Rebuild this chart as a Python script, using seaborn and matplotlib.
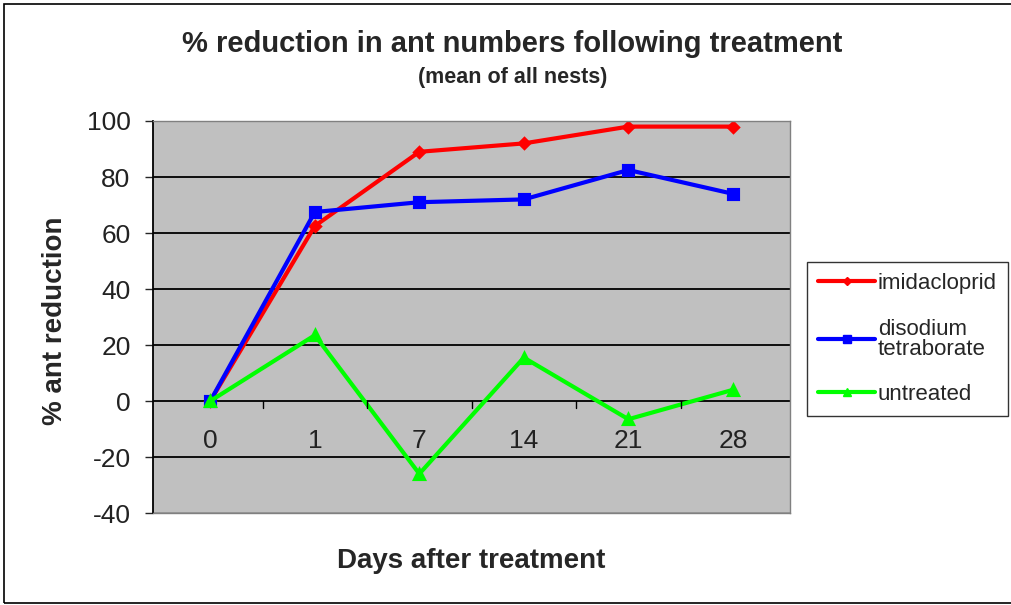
import pandas as pd
import numpy as np
import matplotlib
matplotlib.use('Agg')
import matplotlib.pyplot as plt
import matplotlib.transforms as mtransforms
import seaborn as sns
from matplotlib.lines import Line2D
from matplotlib.patches import Rectangle

days = ['0', '1', '7', '14', '21', '28']
imidacloprid = [0, 62.5, 89, 92, 98, 98]
disodium = [0, 67.5, 71, 72, 82.5, 74]
untreated = [0, 23.5, -26, 15.5, -6.5, 4]
series_names = ['imidacloprid', 'disodium\ntetraborate', 'untreated']
colors = ['#ff0000', '#0000ff', '#00ff00']
markers = ['D', 's', '^']

df = pd.DataFrame({
    'day': days * 3,
    'value': imidacloprid + disodium + untreated,
    'series': np.repeat(series_names, len(days)),
})

sns.set_style('white')
plt.rcParams['font.family'] = ['Liberation Sans', 'DejaVu Sans']
plt.rcParams['axes.unicode_minus'] = False

fig = plt.figure(figsize=(10.12, 6.05), dpi=100)
ax = fig.add_axes([0.151, 0.152, 0.630, 0.648])
ax.set_facecolor('#c0c0c0')

for name, col, mk in zip(series_names, colors, markers):
    sub = df[df['series'] == name]
    sns.pointplot(data=sub, x='day', y='value', order=days, color=col,
                  marker=mk, markersize=5 if mk == 'D' else 7,
                  linewidth=3, ax=ax, errorbar=None)

ax.set_ylim(-40, 100)
ax.set_xlim(-0.55, 5.55)
ax.set_yticks(range(-40, 101, 20))
for y in range(-20, 101, 20):
    ax.axhline(y, color='black', linewidth=1.3, zorder=0.5)
ax.axhline(-40, color='black', linewidth=1, zorder=0.5)

# category labels sit below the y=0 line, not at the bottom of the axes
ax.set_xticks(range(len(days)))
ax.set_xticklabels(days)
ax.tick_params(axis='x', length=0, labelsize=19, pad=0, labelcolor='#222222')
shift = mtransforms.ScaledTranslation(0, 0.84, fig.dpi_scale_trans)
for lbl in ax.get_xticklabels():
    lbl.set_transform(lbl.get_transform() + shift)
for xt in np.arange(0.5, 5, 1.0):
    ax.plot([xt, xt], [0, -2.5], color='black', linewidth=1, clip_on=False)

ax.tick_params(axis='y', length=6, width=1, labelsize=19, direction='out',
               left=True, pad=10, labelcolor='#222222')
ax.set_xlabel('Days after treatment', fontsize=20, fontweight='bold', va='center')
ax.xaxis.set_label_coords(0.5, -0.122)
ax.set_ylabel('% ant reduction', fontsize=20, fontweight='bold', va='center', ha='center')
ax.yaxis.set_label_coords(-0.154, 0.49)

ax.spines['left'].set_color('black')
ax.spines['left'].set_linewidth(1.3)
for s in ['top', 'right', 'bottom']:
    ax.spines[s].set_color('#808080')
    ax.spines[s].set_linewidth(1)

fig.text(0.506, 0.927, '% reduction in ant numbers following treatment',
         ha='center', va='center', fontsize=21, fontweight='bold')
fig.text(0.507, 0.872, '(mean of all nests)', ha='center', va='center',
         fontsize=15.5, fontweight='bold')

handles = [Line2D([], [], color=c, marker=m, markersize=4 if m == 'D' else 6, linewidth=3)
           for c, m in zip(colors, markers)]
leg = fig.legend(handles, series_names, loc='upper left', bbox_to_anchor=(0.797, 0.567),
                 borderaxespad=0, frameon=True, fontsize=16, handlelength=2.6,
                 handletextpad=0.1, labelspacing=1.1, borderpad=0.5,
                 fancybox=False, edgecolor='black')
leg.get_frame().set_linewidth(1)
for t in leg.get_texts():
    t.set_linespacing(0.95)

fig.patches.append(Rectangle((0.004, 0.004), 1.2, 0.99, transform=fig.transFigure,
                             fill=False, edgecolor='black', linewidth=1.2))

fig.savefig('out.png', dpi=100)
